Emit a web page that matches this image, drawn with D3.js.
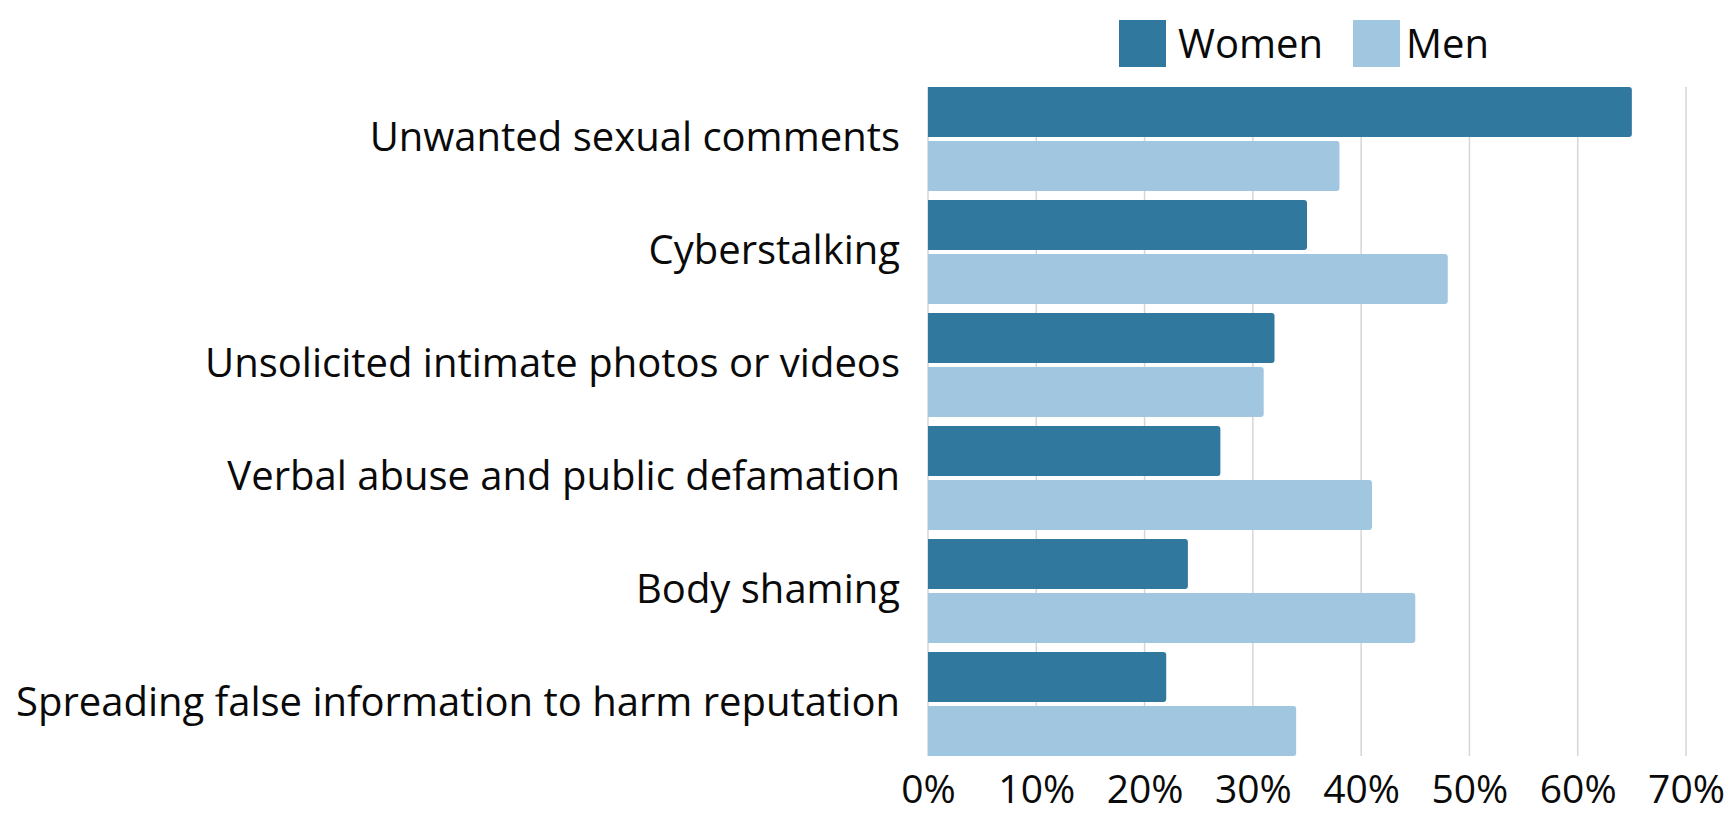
<!DOCTYPE html>
<html>
<head>
<meta charset="utf-8">
<script src="https://cdn.jsdelivr.net/npm/d3@7"></script>
<style>
  html, body { margin: 0; padding: 0; background: #ffffff; }
  svg { display: block; font-family: "Open Sans", sans-serif; }
</style>
</head>
<body>
<svg id="chart" width="1726" height="813"></svg>
<script>
// Share of respondents who experienced each form of online harassment
const categories = [
  "Unwanted sexual comments",
  "Cyberstalking",
  "Unsolicited intimate photos or videos",
  "Verbal abuse and public defamation",
  "Body shaming",
  "Spreading false information to harm reputation"
];
const seriesNames = ["Women", "Men"];
const women = [0.65, 0.35, 0.32, 0.27, 0.24, 0.22];
const men   = [0.38, 0.48, 0.31, 0.41, 0.45, 0.34];
const xTicks = [0, 0.1, 0.2, 0.3, 0.4, 0.5, 0.6, 0.7];
const colors = ["#31789f", "#a0c6e0"];

const svg = d3.select("#chart");

const x = d3.scaleLinear().domain([0, 0.7]).range([928, 1686]);
const y = d3.scaleBand().domain(categories).range([82.5, 760.5])
  .paddingInner(0.0796).paddingOuter(0.0398);
const ySub = d3.scaleBand().domain(seriesNames).range([0, y.bandwidth()]).paddingInner(0.07);
const color = d3.scaleOrdinal().domain(seriesNames).range(colors);

const gridTop = y(categories[0]);
const gridBottom = y(categories[categories.length - 1]) + y.bandwidth();

// vertical gridlines
svg.append("g")
  .selectAll("line")
  .data(xTicks)
  .join("line")
  .attr("x1", d => x(d)).attr("x2", d => x(d))
  .attr("y1", gridTop).attr("y2", gridBottom)
  .attr("stroke", "#d6d6d6")
  .attr("stroke-width", 1.5);

// bar with rounded right end
function barPath(x0, y0, w, h, r) {
  r = Math.min(r, w, h / 2);
  return `M${x0},${y0}H${x0 + w - r}Q${x0 + w},${y0} ${x0 + w},${y0 + r}` +
         `V${y0 + h - r}Q${x0 + w},${y0 + h} ${x0 + w - r},${y0 + h}H${x0}Z`;
}

const rows = categories.map((c, i) => ({
  category: c,
  values: [{ key: "Women", value: women[i] }, { key: "Men", value: men[i] }]
}));

const groups = svg.append("g")
  .selectAll("g")
  .data(rows)
  .join("g")
  .attr("transform", d => `translate(0,${y(d.category)})`);

groups.selectAll("path")
  .data(d => d.values)
  .join("path")
  .attr("d", d => barPath(x(0), ySub(d.key), x(d.value) - x(0), ySub.bandwidth(), 3))
  .attr("fill", d => color(d.key));

// category labels
svg.append("g")
  .selectAll("text")
  .data(categories)
  .join("text")
  .attr("x", 900)
  .attr("y", d => y(d) + y.bandwidth() / 2)
  .attr("dy", "0.29em")
  .attr("text-anchor", "end")
  .attr("font-size", 40)
  .attr("fill", "#0a0a0a")
  .text(d => d);

// x axis tick labels
const xAxis = d3.axisBottom(x)
  .tickValues(xTicks)
  .tickFormat(d3.format(".0%"))
  .tickSize(0)
  .tickPadding(0);
const axisG = svg.append("g")
  .attr("transform", `translate(0,${gridBottom})`)
  .call(xAxis);
axisG.select(".domain").remove();
axisG.selectAll("text")
  .attr("font-family", "'Open Sans', sans-serif")
  .attr("font-size", 39)
  .attr("fill", "#0a0a0a")
  .attr("y", 47)
  .attr("dy", 0);

// legend
const legendItems = [
  { key: "Women", sx: 1119, tx: 1178 },
  { key: "Men", sx: 1353, tx: 1406 }
];
const legend = svg.append("g");
legend.selectAll("rect")
  .data(legendItems)
  .join("rect")
  .attr("x", d => d.sx).attr("y", 20)
  .attr("width", 47).attr("height", 47)
  .attr("fill", d => color(d.key));
legend.selectAll("text")
  .data(legendItems)
  .join("text")
  .attr("x", d => d.tx).attr("y", 58)
  .attr("font-size", 40)
  .attr("fill", "#0a0a0a")
  .text(d => d.key);
</script>
</body>
</html>
